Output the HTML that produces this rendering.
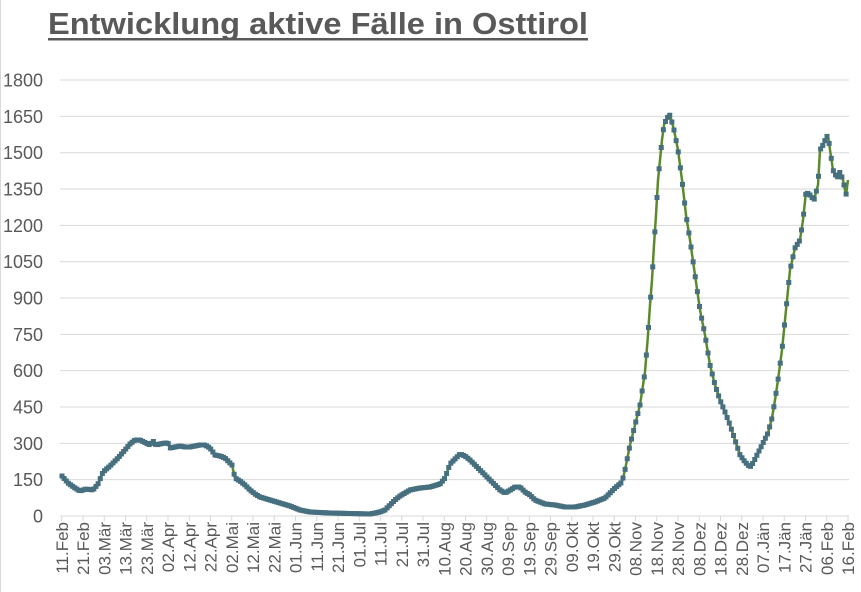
<!DOCTYPE html>
<html><head><meta charset="utf-8"><style>
html,body{margin:0;padding:0;background:#fff;width:861px;height:592px;overflow:hidden}
svg{display:block;font-family:"Liberation Sans",Arial,sans-serif}
</style></head><body>
<svg id="s" width="861" height="592" viewBox="0 0 861 592">
<rect x="0" y="0" width="861" height="592" fill="#fff"/>
<line x1="0.5" y1="0" x2="0.5" y2="592" stroke="#d9d9d9"/>
<text x="48" y="34" font-size="31" font-weight="bold" fill="#595959" textLength="540" lengthAdjust="spacingAndGlyphs">Entwicklung aktive Fälle in Osttirol</text>
<rect x="48" y="38" width="540" height="2.5" fill="#595959"/>
<g id="grid"></g><g id="ylab"></g><g id="xlab"></g>
<polyline id="ln" fill="none" stroke="#5b8a2e" stroke-width="2.5" stroke-linejoin="round"/>
<g id="mk" fill="#466f7f"></g>
</svg>
<script>
var NS="http://www.w3.org/2000/svg";
function el(p,t,a,txt){var e=document.createElementNS(NS,t);for(var k in a)e.setAttribute(k,a[k]);if(txt!=null)e.textContent=txt;document.getElementById(p).appendChild(e);return e;}
var y0=516,step=36.33;
for(var i=0;i<=12;i++){var y=y0-i*step;
 if(i>0)el("grid","line",{x1:60,x2:849,y1:y,y2:y,stroke:"#d9d9d9","stroke-width":1});
 el("ylab","text",{x:43,y:y+6.5,"font-size":18,fill:"#595959","text-anchor":"end"},String(i*150));}
el("grid","line",{x1:60,x2:849,y1:y0,y2:y0,stroke:"#d9d9d9","stroke-width":1});
var labs="11.Feb 21.Feb 03.Mär 13.Mär 23.Mär 02.Apr 12.Apr 22.Apr 02.Mai 12.Mai 22.Mai 01.Jun 11.Jun 21.Jun 01.Jul 11.Jul 21.Jul 31.Jul 10.Aug 20.Aug 30.Aug 09.Sep 19.Sep 29.Sep 09.Okt 19.Okt 29.Okt 08.Nov 18.Nov 28.Nov 08.Dez 18.Dez 28.Dez 07.Jän 17.Jän 27.Jän 06.Feb 16.Feb".split(" ");
for(var j=0;j<labs.length;j++){var x=61.75+j*21.25;
 el("grid","line",{x1:x,x2:x,y1:y0,y2:y0+5,stroke:"#d9d9d9"});
 el("xlab","text",{x:0,y:0,"font-size":17,fill:"#595959","text-anchor":"end",transform:"translate("+(x+6)+","+(y0+6)+") rotate(-90)"},labs[j]);}
var P=[[62,476],[68,483],[75,488],[80,491],[86,489],[93,490],[98,484],[103,472],[110,466],[118,458],[125,450],[130,444],[135,440],[140,440],[146,443],[150,445],[153,441],[156,445],[160,444],[165,443],[168,443],[170,448],[175,447],[180,446],[185,447],[190,447],[195,446],[200,445],[205,445],[210,448],[215,455],[220,456],[225,458],[232,465],[235,478],[240,481],[245,485],[250,490],[255,494],[260,497],[270,500],[280,503],[290,506],[300,510],[310,512],[330,513],[370,514],[380,512],[385,510],[390,505],[395,500],[400,496],[410,490],[420,488],[430,487],[440,484],[445,478],[450,464],[455,459],[460,454],[465,456],[470,460],[480,470],[490,480],[500,490],[505,493],[512,489],[515,487],[520,487],[525,492],[530,495],[535,500],[545,504],[555,505],[565,507],[575,507],[585,505],[595,502],[605,498],[615,488],[622,482],[625,470],[630,445],[635,425],[640,405],[645,372],[648,335],[650,305],[652,280],[654,245],[656,215],[658,180],[660,160],[662,140],[664,125],[667,118],[670,115],[674,130],[678,150],[682,180],[686,215],[690,240],[695,275],[700,310],[705,335],[710,365],[715,385],[720,400],[725,412],[730,425],[735,440],[740,455],[745,462],[750,467],[753,463],[758,453],[762,445],[768,433],[772,418],[775,400],[778,380],[782,350],[786,310],[790,270],[795,248],[800,240],[803,220],[806,192],[810,195],[814,200],[818,185],[820,150],[823,145],[826,138],[828,135],[830,150],[833,170],[837,178],[840,172],[843,180],[846,195],[848,180]];
document.getElementById("ln").setAttribute("points",P.map(function(p){return p.join(",")}).join(" "));
var k=0;
for(var x=62;x<=848;x+=2.125){while(k<P.length-2&&P[k+1][0]<x)k++;
 var a=P[k],b=P[k+1],t=(x-a[0])/(b[0]-a[0]);t=Math.max(0,Math.min(1,t));var y=a[1]+t*(b[1]-a[1]);
 el("mk","rect",{x:x-2.5,y:y-2.5,width:5,height:5});}
</script>
</body></html>
